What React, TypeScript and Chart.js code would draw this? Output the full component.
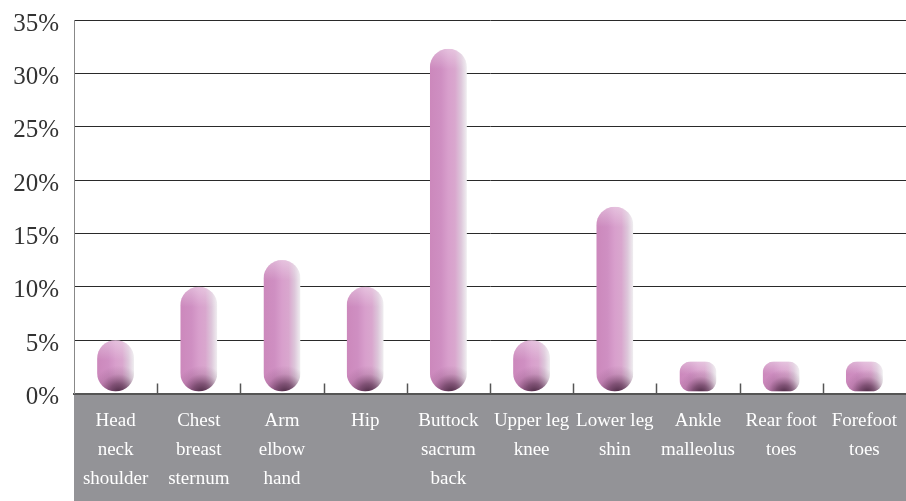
import React, { useEffect, useRef } from "react";
import { Chart, registerables } from "chart.js";

Chart.register(...registerables);

const FONT = "'Liberation Serif', 'DejaVu Serif', serif";

const categories: string[][] = [
  ["Head", "neck", "shoulder"],
  ["Chest", "breast", "sternum"],
  ["Arm", "elbow", "hand"],
  ["Hip"],
  ["Buttock", "sacrum", "back"],
  ["Upper leg", "knee"],
  ["Lower leg", "shin"],
  ["Ankle", "malleolus"],
  ["Rear foot", "toes"],
  ["Forefoot", "toes"],
];

const values: number[] = [5, 10, 12.5, 10, 32.3, 5, 17.5, 3, 3, 3];

const yMin = 0;
const yMax = 35;
const yStep = 5;

const capsulePlugin = {
  id: "capsules",
  beforeDraw(chart: any) {
    const { ctx, chartArea } = chart;
    ctx.save();
    ctx.fillStyle = "#939397";
    ctx.fillRect(chartArea.left, chartArea.bottom, chartArea.right - chartArea.left, chart.height - chartArea.bottom);
    ctx.restore();
  },
  afterDatasetsDraw(chart: any) {
    const { ctx, chartArea } = chart;
    const meta = chart.getDatasetMeta(0);
    const xScale = chart.scales.x;
    ctx.save();
    ctx.strokeStyle = "#555";
    ctx.lineWidth = 1.5;
    for (let i = 1; i < categories.length; i++) {
      const bx = (xScale.getPixelForTick(i - 1) + xScale.getPixelForTick(i)) / 2;
      ctx.beginPath();
      ctx.moveTo(Math.round(bx) + 0.5, chartArea.bottom - 10);
      ctx.lineTo(Math.round(bx) + 0.5, chartArea.bottom);
      ctx.stroke();
    }
    meta.data.forEach((el: any) => {
      const { x, y, base, width } = el.getProps(["x", "y", "base", "width"], true);
      const left = x - width / 2;
      const right = x + width / 2;
      const bottom = base - 1.5;
      const h = bottom - y;
      const r = Math.min(width / 2, h * 0.38);
      ctx.save();
      ctx.beginPath();
      ctx.roundRect(left, y, width, h, r);
      ctx.clip();
      const hg = ctx.createLinearGradient(left, 0, right, 0);
      hg.addColorStop(0, "#cc88bc");
      hg.addColorStop(0.3, "#cf8fc2");
      hg.addColorStop(0.5, "#d89fcc");
      hg.addColorStop(0.68, "#d9a7ce");
      hg.addColorStop(0.84, "#ddc6da");
      hg.addColorStop(1, "#f0eff1");
      ctx.fillStyle = hg;
      ctx.fillRect(left, y, width, h);
      const tg = ctx.createLinearGradient(0, y, 0, y + r * 1.1);
      tg.addColorStop(0, "rgba(255,255,255,0.35)");
      tg.addColorStop(1, "rgba(255,255,255,0)");
      ctx.fillStyle = tg;
      ctx.fillRect(left, y, width, r * 1.1);
      const sh = Math.min(width * 0.75, h * 0.8);
      const cx = x + width * 0.08;
      const rg = ctx.createRadialGradient(cx, bottom + width * 0.05, 0, cx, bottom + width * 0.05, sh);
      rg.addColorStop(0, "rgba(55,25,48,0.9)");
      rg.addColorStop(0.35, "rgba(70,30,60,0.6)");
      rg.addColorStop(0.7, "rgba(90,40,75,0.15)");
      rg.addColorStop(1, "rgba(90,40,75,0)");
      ctx.fillStyle = rg;
      ctx.fillRect(left, bottom - sh, width, sh);
      ctx.restore();
    });
    ctx.restore();
  },
};

export default function App() {
  const ref = useRef<HTMLCanvasElement | null>(null);
  useEffect(() => {
    if (!ref.current) return;
    const chart = new Chart(ref.current, {
      type: "bar",
      data: {
        labels: categories,
        datasets: [
          {
            data: values,
            backgroundColor: "rgba(0,0,0,0)",
            borderWidth: 0,
            categoryPercentage: 1,
            barPercentage: 0.445,
          },
        ],
      },
      options: {
        animation: false,
        responsive: true,
        maintainAspectRatio: false,
        layout: { padding: { top: 20, left: 0, right: 0, bottom: 0 } },
        plugins: { legend: { display: false }, tooltip: { enabled: false } },
        scales: {
          x: {
            grid: { display: false, drawTicks: false },
            border: { display: true, color: "#555", width: 2 },
            ticks: {
              color: "#ffffff",
              font: { family: FONT, size: 19, lineHeight: 1.53 },
              padding: 13,
              maxRotation: 0,
              autoSkip: false,
            },
            afterFit: (scale: any) => {
              scale.height = 107.5;
              scale.paddingLeft = 0;
              scale.paddingRight = 0;
            },
          },
          y: {
            min: yMin,
            max: yMax,
            grid: {
              drawTicks: false,
              color: (c: any) => (c.tick && c.tick.value === 0 ? "rgba(0,0,0,0)" : "#2a2a2a"),
              lineWidth: 1,
            },
            border: { display: true, color: "#888", width: 1 },
            ticks: {
              stepSize: yStep,
              color: "#333",
              font: { family: FONT, size: 25 },
              padding: 15,
              labelOffset: 4,
              callback: (v: any) => v + "%",
            },
            afterFit: (scale: any) => {
              scale.width = 74;
              scale.paddingTop = 0;
              scale.paddingBottom = 0;
            },
          },
        },
      },
      plugins: [capsulePlugin],
    });
    return () => chart.destroy();
  }, []);
  return (
    <div style={{ position: "absolute", left: 0, top: 0, width: 906, height: 501 }}>
      <canvas ref={ref} />
    </div>
  );
}
